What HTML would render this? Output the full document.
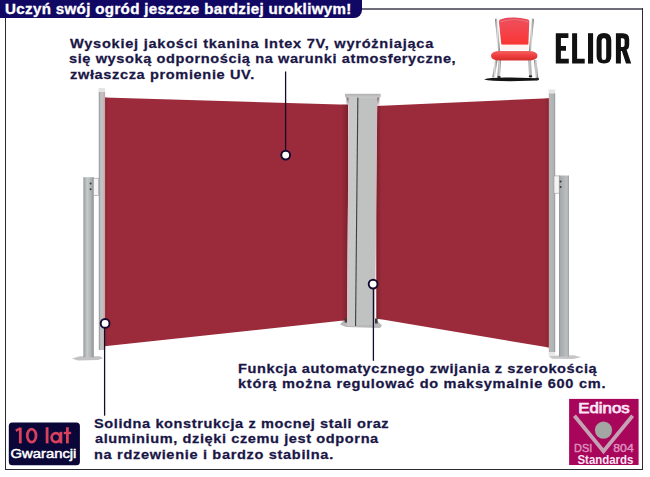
<!DOCTYPE html>
<html><head><meta charset="utf-8">
<style>
html,body{margin:0;padding:0;}
body{width:650px;height:477px;position:relative;overflow:hidden;background:#fff;font-family:"Liberation Sans",sans-serif;}
.a{position:absolute;}
.ln{position:absolute;white-space:nowrap;font-weight:bold;font-size:13px;color:#1a1646;line-height:15px;transform-origin:0 0;transform:scaleX(1.215);-webkit-text-stroke:.25px #1a1646;}
#banner{left:0;top:0;width:362px;height:18px;background:#110864;border-bottom-right-radius:8px;}
.bt{position:absolute;white-space:nowrap;font-weight:bold;font-size:13.5px;color:#fff;line-height:15px;transform-origin:0 0;transform:scaleX(1.17);-webkit-text-stroke:.3px #fff;}
</style></head><body>
<!-- frame -->
<div class="a" style="left:362px;top:8px;width:281px;height:1.5px;background:#6e6e7a"></div>
<div class="a" style="left:5px;top:18px;width:1px;height:452px;background:#2a2a34"></div>
<div class="a" style="left:5px;top:469px;width:638px;height:1px;background:#2a2a34"></div>
<div class="a" style="left:642px;top:8px;width:1px;height:462px;background:#2a2a34"></div>
<div id="banner" class="a"></div>
<div class="bt" style="left:4.5px;top:1.1px;transform:scale(1.12,1.05);letter-spacing:.3px">Uczyń swój ogród jeszcze bardziej urokliwym!</div>

<!-- product -->
<svg class="a" style="left:0;top:0" width="650" height="477" viewBox="0 0 650 477">
<defs>
<linearGradient id="lsh" x1="0" x2="1" y1="0" y2="0"><stop offset="0" stop-color="#9b2b3b" stop-opacity="0"/><stop offset=".5" stop-color="#8a2634" stop-opacity=".7"/><stop offset="1" stop-color="#7a202c" stop-opacity="1"/></linearGradient>
<linearGradient id="rsh" x1="0" x2="1" y1="0" y2="0"><stop offset="0" stop-color="#7a202c" stop-opacity="1"/><stop offset=".5" stop-color="#8a2634" stop-opacity=".7"/><stop offset="1" stop-color="#9b2b3b" stop-opacity="0"/></linearGradient>
<linearGradient id="pole" x1="0" x2="1" y1="0" y2="0"><stop offset="0" stop-color="#8e9294"/><stop offset=".3" stop-color="#c0c2c2"/><stop offset=".6" stop-color="#c4c0c0"/><stop offset="1" stop-color="#c8a2a6"/></linearGradient>
<linearGradient id="rpole" x1="0" x2="1" y1="0" y2="0"><stop offset="0" stop-color="#c8a8ac"/><stop offset=".3" stop-color="#b4b8b8"/><stop offset=".8" stop-color="#aeb2b2"/><stop offset="1" stop-color="#8c9090"/></linearGradient>
<linearGradient id="spole" x1="0" x2="1" y1="0" y2="0"><stop offset="0" stop-color="#b6baba"/><stop offset=".7" stop-color="#aeb2b2"/><stop offset="1" stop-color="#8e9494"/></linearGradient>
</defs>
<!-- left fabric -->
<polygon points="104.5,97.5 348,104.8 348,320 104.5,346.3" fill="#9b2b3b"/>
<polygon points="340,104.6 348,104.8 348,320 340,321" fill="url(#lsh)"/>
<!-- right fabric -->
<polygon points="376.5,106 549,98.2 549,347.5 376.5,318.6" fill="#9b2b3b"/>
<polygon points="376.5,106 383,105.7 383,319.7 376.5,318.6" fill="url(#rsh)"/>
<polygon points="544,98.4 549,98.2 549,347.5 544,346.7" fill="url(#lsh)" opacity=".7"/>
<polygon points="104.5,97.5 108.5,97.6 108.5,345.8 104.5,346.3" fill="url(#rsh)" opacity=".7"/>
<!-- central pillar base -->
<polygon points="343,321 377,320.5 382,325.5 380,328 346,327 340,324.5" fill="#b8b8b8"/>
<rect x="344.6" y="318.5" width="2.6" height="4" fill="#3a3a3a"/>
<rect x="375" y="318.5" width="2.6" height="5" fill="#3a3a3a"/>
<!-- central pillar body -->
<polygon points="348.8,97 377.2,97 374.6,325 347.1,325" fill="#c0c2c2"/>
<polygon points="348.8,97 358,97 355.9,326 347.1,326" fill="#c7c9c9"/>
<polygon points="348.6,97 350.2,97 348.7,325 347.1,325" fill="#d9bfc3"/>
<polygon points="376,97 377.4,97 374.8,324 373.4,324" fill="#d2b8bc"/>
<polygon points="357.3,97 358.4,97 356.1,326 355,326" fill="#3c3e40"/>
<defs><linearGradient id="dk" x1="0" x2="0" y1="0" y2="1"><stop offset="0" stop-color="#2a2a2c" stop-opacity=".95"/><stop offset="1" stop-color="#2a2a2c" stop-opacity="0"/></linearGradient>
<linearGradient id="cap" x1="0" x2="0" y1="0" y2="1"><stop offset="0" stop-color="#b0b0b0"/><stop offset="1" stop-color="#cacaca"/></linearGradient></defs>
<rect x="346.4" y="97" width="2.2" height="10" fill="url(#dk)" opacity=".75"/>
<rect x="377.2" y="97" width="2.2" height="10" fill="url(#dk)" opacity=".75"/>
<rect x="345" y="93.8" width="35.7" height="3.8" fill="url(#cap)"/>
<!-- left tall pole -->
<defs>
<linearGradient id="lsp" x1="0" x2="1" y1="0" y2="0"><stop offset="0" stop-color="#8e9393"/><stop offset=".12" stop-color="#a8acac"/><stop offset=".35" stop-color="#c6caca"/><stop offset=".7" stop-color="#b0b4b4"/><stop offset="1" stop-color="#8e9393"/></linearGradient>
<linearGradient id="rsp" x1="0" x2="1" y1="0" y2="0"><stop offset="0" stop-color="#8e9595"/><stop offset=".15" stop-color="#a6aaaa"/><stop offset=".55" stop-color="#b4b8bc"/><stop offset=".8" stop-color="#bcc0c0"/><stop offset="1" stop-color="#9a9e9e"/></linearGradient>
</defs>
<rect x="98.5" y="88" width="6.5" height="4.5" fill="#e4e4e4"/>
<rect x="98.8" y="92" width="6.3" height="258" fill="url(#pole)"/>
<!-- left short pole -->
<polygon points="71.8,358.4 80,356.3 100,356.3 103,358.2 98,360 78,360.6" fill="#c2c2c2"/>
<rect x="83.4" y="177.2" width="10.4" height="180" fill="url(#lsp)"/>
<rect x="93.5" y="178.2" width="5.2" height="17.3" fill="#f4f4f4" stroke="#9a9a9a" stroke-width=".6"/>
<circle cx="90.6" cy="183.5" r="1" fill="#3a3a3a"/>
<circle cx="90.6" cy="189.2" r="1" fill="#3a3a3a"/>
<!-- right tall pole -->
<rect x="548.6" y="89.5" width="6.6" height="4.5" fill="#e4e4e4"/>
<rect x="548.8" y="93.5" width="6.4" height="258.5" fill="url(#rpole)"/>
<!-- right short pole -->
<polygon points="548.5,355.8 574,355.3 581,357.2 573,359 552,358.8" fill="#c6c6c6"/>
<rect x="548.6" y="352" width="6.4" height="3.5" fill="#e6e8e8"/>
<rect x="559" y="175.5" width="10" height="181" fill="url(#rsp)"/>
<rect x="554" y="175.9" width="5.2" height="17.3" fill="#f4f4f4" stroke="#9a9a9a" stroke-width=".6"/>
<circle cx="560.6" cy="181.5" r="1" fill="#3a3a3a"/>
<circle cx="560.6" cy="186.9" r="1" fill="#3a3a3a"/>
<!-- connector lines & markers -->
<line x1="285.6" y1="71.5" x2="285.6" y2="155" stroke="#140c2c" stroke-width="1.3"/>
<circle cx="285.7" cy="155.1" r="4.4" fill="#fff" stroke="#160a30" stroke-width="1.9"/>
<line x1="373.4" y1="284" x2="373.4" y2="360.8" stroke="#140c2c" stroke-width="1.3"/>
<circle cx="373.1" cy="284.1" r="4.4" fill="#fff" stroke="#160a30" stroke-width="1.9"/>
<line x1="104.6" y1="323" x2="104.6" y2="415.7" stroke="#140c2c" stroke-width="1.3"/>
<circle cx="105.1" cy="323.4" r="4.4" fill="#fff" stroke="#160a30" stroke-width="1.9"/>
</svg>

<!-- chair logo -->
<svg class="a" style="left:0;top:0" width="650" height="477" viewBox="0 0 650 477">
<defs>
<linearGradient id="back" x1="0" x2="0" y1="0" y2="1"><stop offset="0" stop-color="#e04654"/><stop offset=".2" stop-color="#f04c58"/><stop offset="1" stop-color="#fa3434"/></linearGradient>
<linearGradient id="seat" x1="0" x2="0" y1="0" y2="1"><stop offset="0" stop-color="#f26262"/><stop offset=".45" stop-color="#f04040"/><stop offset="1" stop-color="#d42c2c"/></linearGradient>
<linearGradient id="leg" x1="0" x2="1" y1="0" y2="0"><stop offset="0" stop-color="#6a6a6a"/><stop offset=".45" stop-color="#e0e0e0"/><stop offset="1" stop-color="#727272"/></linearGradient>
</defs>
<path d="M484,79.5 Q490,77.2 511,77.6 L538,78.2 Q540,79.6 537,80.6 L510,81.2 Q490,81 484,79.5 Z" fill="#141414"/>
<polygon points="495,60 497.5,60 494.8,77.5 492.3,77.5" fill="url(#leg)"/>
<polygon points="498.5,60 501,60 500,76.5 497.5,76.5" fill="url(#leg)"/>
<polygon points="528.5,60 531,60 531.5,76 529,76" fill="url(#leg)"/>
<polygon points="534,60 536.5,60 538.3,78.5 535.8,78.5" fill="url(#leg)"/>
<ellipse cx="499" cy="77" rx="1.8" ry="1.1" fill="#222"/>
<ellipse cx="530.5" cy="76.4" rx="1.8" ry="1.1" fill="#222"/>
<ellipse cx="537" cy="79" rx="2" ry="1.2" fill="#222"/>
<polygon points="495,19 497.2,18.5 500.2,52 498,52" fill="url(#leg)"/>
<polygon points="531.8,18.5 534,19 531,52 528.8,52" fill="url(#leg)"/>
<path d="M498.9,21.5 Q499,19.6 501,19.2 Q514,15.6 527.3,19.2 Q529.3,19.6 529.3,21.5 L528.4,43.8 Q528.4,44.8 527.4,44.8 L502.2,44.8 Q501.2,44.8 501.2,43.8 Z" fill="url(#back)"/>
<path d="M500,22 Q514,17.2 528.5,22" stroke="#f8a0a8" stroke-width=".7" fill="none" opacity=".7"/>
<rect x="501" y="44.8" width="27.5" height="5.5" fill="#fdf2f2"/>
<path d="M491,55.8 Q491,51 500,51 L528,51 Q537.5,51 537.5,55.8 Q537.5,60.5 528,60.5 L500,60.5 Q491,60.5 491,55.8 Z" fill="url(#seat)"/>
</svg>

<!-- ELIOR -->
<svg class="a" style="left:0;top:0" width="650" height="477" viewBox="0 0 650 477">
<g fill="#111">
<path d="M555.8,33.2 H568.4 V38.1 H560.9 V46 H566 V50.7 H560.9 V58.8 H568.8 V63.6 H555.8 Z"/>
<path d="M572.1,33.2 H577.1 V58.8 H584.7 V63.6 H572.1 Z"/>
<rect x="588" y="33.2" width="5.1" height="30.4"/>
<path fill-rule="evenodd" d="M596.6,40.3 Q596.6,33 604,33 Q611.3,33 611.3,40.3 V56.3 Q611.3,63.6 604,63.6 Q596.6,63.6 596.6,56.3 Z M601.6,40.5 Q601.6,38 603.9,38 Q606.2,38 606.2,40.5 V57.4 Q606.2,59.9 603.9,59.9 Q601.6,59.9 601.6,57.4 Z"/>
<path fill-rule="evenodd" d="M615.9,33.2 H623 Q629.2,33.2 629.2,39.5 V44.2 Q629.2,48.8 626.6,49.8 L631.2,63.6 H626 L621.9,51 H620.9 V63.6 H615.9 Z M620.9,38.2 V46.9 H622.7 Q624.6,46.9 624.6,44.9 V40.2 Q624.6,38.2 622.7,38.2 Z"/>
</g>
</svg>

<!-- badges -->
<svg class="a" style="left:0;top:0" width="650" height="477" viewBox="0 0 650 477">
<rect x="8.8" y="422.4" width="71.1" height="42.9" rx="3.5" ry="3.5" fill="#0a0638"/>
<g fill="#d8405c" stroke="none">
<rect x="18.9" y="427.6" width="2.8" height="15.8"/>
<polygon points="15.3,429.6 19.6,427.4 21.2,428.8 16.4,432"/>
</g>
<g fill="none" stroke="#d8405c" stroke-width="2.75">
<ellipse cx="31.65" cy="435.55" rx="4.4" ry="6.5"/>
<ellipse cx="55.9" cy="437.6" rx="4.3" ry="4.45"/>
</g>
<g fill="#d8405c">
<rect x="45.7" y="427.2" width="2.8" height="16.2"/>
<rect x="59.5" y="431.8" width="2.8" height="11.6"/>
<rect x="66" y="427.2" width="2.8" height="16.2"/>
<rect x="63.7" y="431.8" width="7.4" height="2.4"/>
</g>
<text x="10.6" y="458.3" font-family="Liberation Sans" font-size="11.9" fill="#fff" stroke="#fff" stroke-width=".45" textLength="65.8" lengthAdjust="spacingAndGlyphs">Gwarancji</text>

<rect x="569.1" y="398.9" width="69.5" height="66.1" fill="#a8065a"/>
<text x="578.3" y="413.3" font-family="Liberation Sans" font-size="15.2" fill="#fce6f6" stroke="#fce6f6" stroke-width=".75" textLength="51.4" lengthAdjust="spacingAndGlyphs">Edinos</text>
<polyline points="574.4,415.8 603.5,451.2 632.6,415.8" fill="none" stroke="#c4a2b4" stroke-width="3.8" stroke-linejoin="miter"/>
<circle cx="603.5" cy="430.2" r="8.6" fill="#a4a6a4"/>
<g font-family="Liberation Sans" font-size="11.4" fill="#dc90be" stroke="#dc90be" stroke-width=".45">
<text x="574" y="451.9" textLength="18.2" lengthAdjust="spacingAndGlyphs">DSI</text>
<text x="613.3" y="451.9" textLength="20.4" lengthAdjust="spacingAndGlyphs">804</text>
</g>
<text x="577.5" y="463.6" font-family="Liberation Sans" font-size="12.3" font-weight="bold" fill="#fce6f6" textLength="55.9" lengthAdjust="spacingAndGlyphs">Standards</text>
</svg>

<!-- text blocks -->
<div class="ln" style="left:70.30px;top:35.99px;transform:scale(1.120,1.03);letter-spacing:0.673px">Wysokiej jakości tkanina Intex 7V, wyróżniająca</div>
<div class="ln" style="left:69.30px;top:51.39px;transform:scale(1.120,1.03);letter-spacing:0.535px">się wysoką odpornością na warunki atmosferyczne,</div>
<div class="ln" style="left:70.30px;top:67.09px;transform:scale(1.120,1.03);letter-spacing:0.567px">zwłaszcza promienie UV.</div>

<div class="ln" style="left:238.40px;top:360.79px;transform:scale(1.120,1.03);letter-spacing:0.530px">Funkcja automatycznego zwijania z szerokością</div>
<div class="ln" style="left:238.40px;top:376.49px;transform:scale(1.120,1.03);letter-spacing:0.640px">którą można regulować do maksymalnie 600 cm.</div>

<div class="ln" style="left:93.60px;top:415.79px;transform:scale(1.120,1.03);letter-spacing:0.535px">Solidna konstrukcja z mocnej stali oraz</div>
<div class="ln" style="left:94.60px;top:431.49px;transform:scale(1.120,1.03);letter-spacing:0.538px">aluminium, dzięki czemu jest odporna</div>
<div class="ln" style="left:93.60px;top:447.19px;transform:scale(1.120,1.03);letter-spacing:0.597px">na rdzewienie i bardzo stabilna.</div>

</body></html>
